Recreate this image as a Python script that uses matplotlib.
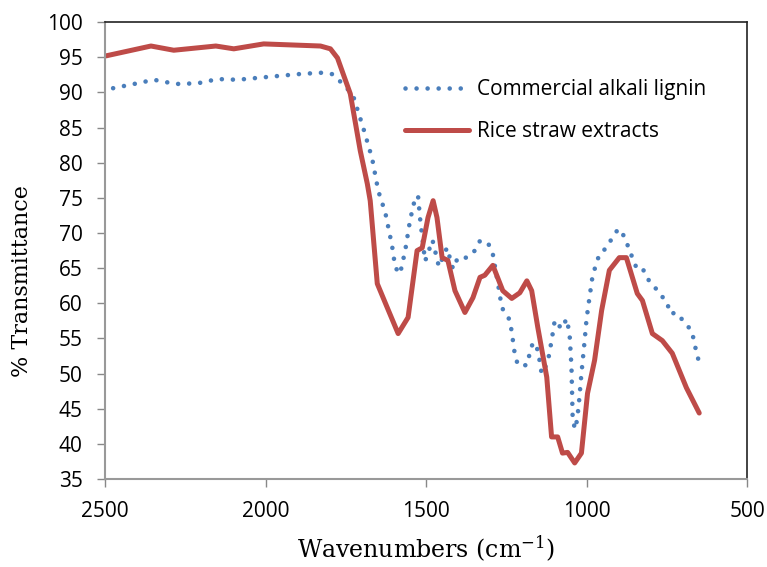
import numpy as np
import matplotlib.pyplot as plt

plt.rcParams['mathtext.fontset'] = 'dejavuserif'

# Wavenumber (cm-1) and % transmittance
lignin_wn = [2475, 2410, 2348, 2280, 2211, 2149, 2087, 1994, 1898, 1829, 1792,
             1752, 1727, 1696, 1668, 1649, 1627, 1606, 1596, 1581, 1565, 1550,
             1534, 1525, 1519, 1503, 1480, 1460, 1435, 1416, 1401, 1373, 1348,
             1332, 1307, 1292, 1276, 1264, 1239, 1233, 1224, 1214, 1186, 1177,
             1168, 1158, 1149, 1140, 1121, 1109, 1099, 1078, 1062, 1053, 1047,
             1043, 1034, 1025, 1016, 1006, 1000, 991, 981, 969, 960, 938, 919,
             901, 882, 866, 845, 826, 814, 789, 773, 748, 742, 717, 696, 674,
             665, 658, 649]
lignin_t = [90.6, 91.2, 91.8, 91.2, 91.3, 91.9, 91.8, 92.2, 92.6, 92.8, 92.6,
            90.9, 89.5, 85.0, 80.6, 76.0, 72.9, 68.2, 65.1, 64.2, 67.5, 71.8,
            75.0, 75.3, 72.2, 66.0, 69.0, 65.2, 67.9, 64.9, 66.5, 66.5, 67.5,
            68.9, 68.6, 67.0, 62.8, 59.4, 57.6, 55.9, 52.9, 51.2, 51.2, 52.9,
            54.3, 54.3, 52.6, 50.0, 51.6, 54.7, 57.6, 56.4, 57.8, 55.7, 50.9,
            43.1, 42.1, 45.2, 50.0, 54.7, 57.8, 60.8, 64.0, 65.7, 67.0, 67.9,
            69.4, 70.6, 69.5, 67.5, 65.1, 65.1, 63.7, 62.4, 61.4, 60.1, 58.6,
            58.6, 57.3, 56.2, 54.7, 53.0, 51.6]

rice_wn = [2497, 2357, 2286, 2155, 2099, 2006, 1829, 1798, 1776, 1758, 1736,
           1705, 1683, 1674, 1652, 1621, 1587, 1556, 1528, 1512, 1494, 1478,
           1466, 1450, 1432, 1410, 1379, 1354, 1332, 1317, 1292, 1261, 1233,
           1208, 1186, 1171, 1152, 1124, 1109, 1090, 1075, 1059, 1037, 1016,
           997, 975, 953, 929, 898, 876, 842, 826, 795, 764, 733, 689, 649]
rice_t = [95.2, 96.6, 96.0, 96.6, 96.2, 96.9, 96.6, 96.2, 94.9, 92.6, 89.8,
          81.7, 77.0, 74.6, 62.8, 59.4, 55.7, 58.0, 67.5, 67.9, 72.2, 74.6,
          72.2, 66.5, 66.1, 61.8, 58.7, 60.8, 63.7, 64.0, 65.4, 61.8, 60.7,
          61.5, 63.2, 61.8, 56.6, 49.5, 41.0, 41.0, 38.7, 38.8, 37.3, 38.7,
          47.2, 51.9, 59.0, 64.7, 66.5, 66.5, 61.4, 60.4, 55.7, 54.7, 52.9,
          48.0, 44.4]

x_ticks = [2500, 2000, 1500, 1000, 500]
y_ticks = list(range(35, 101, 5))

fig = plt.figure(figsize=(7.67, 5.67), dpi=100)
ax = fig.add_axes([0.137, 0.155, 0.837, 0.806])

ax.plot(lignin_wn, lignin_t, color='#4a7ebb', linestyle=(0, (0.01, 2.4)),
        linewidth=3.3, dash_capstyle='round', label='Commercial alkali lignin')
ax.plot(rice_wn, rice_t, color='#be4b48', linewidth=3.6,
        solid_joinstyle='round', solid_capstyle='round',
        label='Rice straw extracts')

ax.set_xlim(2500, 500)
ax.set_ylim(35, 100)
ax.set_xticks(x_ticks)
ax.set_yticks(y_ticks)

tick_font = {'family': 'Open Sans', 'size': 15}
ax.set_xticklabels([str(t) for t in x_ticks], fontdict=tick_font)
ax.set_yticklabels([str(t) for t in y_ticks], fontdict=tick_font)
ax.tick_params(direction='out', length=6, width=1, color='#888888', pad=10)

for side in ['left', 'bottom']:
    ax.spines[side].set_color('#999999')
    ax.spines[side].set_linewidth(1.5)
for side in ['top', 'right']:
    ax.spines[side].set_color('#222222')
    ax.spines[side].set_linewidth(1.2)

ax.set_xlabel('Wavenumbers (cm$^{-1}$)', family='DejaVu Serif',
              fontsize=17, labelpad=8)
ax.set_ylabel('% Transmittance', family='DejaVu Serif', fontsize=16)
ax.yaxis.set_label_coords(-0.112, 0.433)

ax.legend(loc='upper left', bbox_to_anchor=(0.467, 0.875), frameon=False,
          prop={'family': 'Open Sans', 'size': 15}, handlelength=3.1,
          labelspacing=1.0, handletextpad=0.35, borderpad=0,
          borderaxespad=0)

fig.savefig('out.png', dpi=100)
